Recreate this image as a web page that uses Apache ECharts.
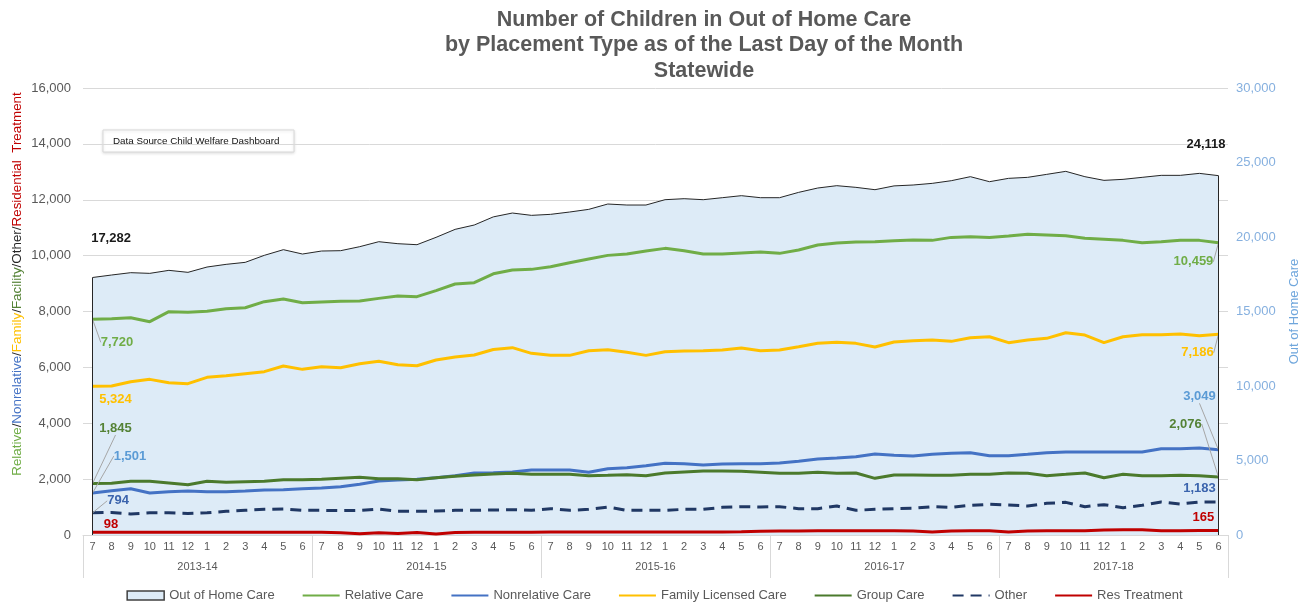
<!DOCTYPE html>
<html>
<head>
<meta charset="utf-8">
<script src="https://cdn.jsdelivr.net/npm/echarts@6/dist/echarts.min.js"></script>
<style>
html,body{margin:0;padding:0;background:#fff;}
#chart{width:1309px;height:604px;}
</style>
</head>
<body>
<div id="chart"></div>
<script>
// ---------------- DATA ----------------
const months = ['7','8','9','10','11','12','1','2','3','4','5','6'];
const fiscalYears = ['2013-14','2014-15','2015-16','2016-17','2017-18'];

const outOfHomeCare = [
  17282, 17449, 17605, 17560, 17762, 17628, 17985, 18164, 18299, 18768, 19149, 18858,
  19059, 19082, 19350, 19685, 19551, 19484, 19976, 20513, 20804, 21350, 21609, 21453,
  21520, 21676, 21855, 22213, 22146, 22146, 22504, 22571, 22504, 22638, 22773, 22638,
  22638, 22996, 23287, 23444, 23332, 23175, 23430, 23489, 23600, 23779, 24048, 23712,
  23936, 24003, 24204, 24406, 24048, 23802, 23869, 24003, 24137, 24137, 24271, 24118
];
const relativeCare = [
  7720, 7743, 7778, 7635, 7993, 7969, 8005, 8100, 8136, 8351, 8446, 8315,
  8339, 8363, 8375, 8470, 8554, 8530, 8745, 8983, 9031, 9350, 9484, 9508,
  9604, 9747, 9878, 10009, 10057, 10164, 10260, 10176, 10057, 10057, 10093, 10129,
  10081, 10200, 10379, 10451, 10486, 10498, 10534, 10558, 10546, 10653, 10677, 10653,
  10701, 10761, 10737, 10713, 10618, 10582, 10546, 10463, 10498, 10546, 10546, 10459
];
const nonrelativeCare = [
  1501, 1587, 1658, 1503, 1551, 1575, 1551, 1551, 1575, 1611, 1622, 1658,
  1682, 1730, 1813, 1933, 1968, 1992, 2052, 2124, 2219, 2231, 2255, 2326,
  2326, 2326, 2243, 2374, 2410, 2481, 2565, 2553, 2505, 2541, 2553, 2553,
  2577, 2637, 2720, 2756, 2804, 2899, 2857, 2827, 2887, 2923, 2947, 2839,
  2839, 2887, 2947, 2971, 2971, 2971, 2971, 2971, 3090, 3090, 3114, 3049
];
const familyLicensedCare = [
  5324, 5333, 5488, 5571, 5452, 5416, 5643, 5703, 5774, 5846, 6049, 5929,
  6025, 5989, 6132, 6216, 6096, 6060, 6263, 6371, 6442, 6640, 6705, 6502,
  6430, 6430, 6597, 6633, 6538, 6430, 6561, 6585, 6597, 6621, 6693, 6597,
  6621, 6740, 6860, 6896, 6860, 6729, 6907, 6955, 6979, 6931, 7063, 7098,
  6884, 6979, 7039, 7241, 7158, 6884, 7098, 7170, 7170, 7194, 7134, 7186
];
const groupCare = [
  1845, 1849, 1921, 1921, 1861, 1801, 1921, 1885, 1909, 1921, 1980, 1980,
  1992, 2028, 2064, 2016, 2016, 1980, 2052, 2100, 2147, 2180, 2207, 2171,
  2171, 2171, 2124, 2136, 2159, 2124, 2219, 2255, 2291, 2291, 2279, 2243,
  2207, 2207, 2243, 2207, 2219, 2028, 2147, 2147, 2136, 2136, 2171, 2171,
  2219, 2207, 2124, 2171, 2219, 2052, 2171, 2124, 2124, 2136, 2124, 2076
];
const otherCare = [
  794, 808, 752, 794, 794, 770, 794, 847, 883, 919, 931, 883,
  883, 871, 883, 931, 847, 847, 859, 883, 883, 895, 907, 883,
  943, 883, 919, 1002, 883, 883, 883, 919, 919, 990, 1014, 1002,
  1014, 943, 943, 1038, 883, 919, 943, 955, 1014, 990, 1062, 1098,
  1074, 1038, 1133, 1169, 1014, 1086, 978, 1062, 1181, 1110, 1181, 1183
];
const resTreatment = [
  98, 100, 100, 98, 97, 95, 95, 98, 100, 100, 100, 95,
  95, 80, 45, 80, 50, 90, 40, 90, 100, 100, 100, 100,
  105, 105, 105, 105, 105, 105, 105, 110, 110, 110, 115, 130,
  140, 145, 150, 150, 150, 150, 150, 140, 110, 140, 150, 155,
  110, 140, 150, 150, 155, 175, 190, 185, 155, 150, 160, 165
];
const leftTicks = [0, 2000, 4000, 6000, 8000, 10000, 12000, 14000, 16000];
const rightTicks = [0, 5000, 10000, 15000, 20000, 25000, 30000];

// ---------------- CHART ----------------
const categories = [];
fiscalYears.forEach(fy => months.forEach(m => categories.push(fy + '|' + m)));
const LAST = categories.length - 1;
const fmt = v => Number(v).toLocaleString('en-US');
const FONT = 'Arial, "Liberation Sans", sans-serif';

function withLabels(values, color, cfg) {
  return values.map((v, i) => {
    if (!cfg[i]) return v;
    return {
      value: v,
      label: {show: true, color: color},
      labelLine: {show: !!cfg[i].line}
    };
  });
}
function layoutFor(cfg) {
  return function (p) {
    const c = cfg[p.dataIndex];
    if (!c) return {};
    return {dx: c.dx, dy: c.dy};
  };
}

const baseLabel = {
  show: false, position: 'inside', fontSize: 13, fontWeight: 'bold', fontFamily: FONT,
  formatter: p => fmt(p.value)
};
const baseLine = {show: false, lineStyle: {color: '#A6A6A6', width: 1}};

function lineSeries(name, values, color, labelColor, cfg, extra) {
  return Object.assign({
    name: name,
    type: 'line',
    data: withLabels(values, labelColor, cfg),
    symbol: 'circle',
    symbolSize: 1,
    showSymbol: true,
    showAllSymbol: true,
    itemStyle: {color: 'rgba(0,0,0,0)'},
    lineStyle: {color: color, width: 3},
    label: baseLabel,
    labelLine: baseLine,
    labelLayout: layoutFor(cfg),
    emphasis: {disabled: true},
    silent: true,
    animation: false
  }, extra || {});
}

const cfgOOHC = {0: {dx: 18.5, dy: -39.5}, [LAST]: {dx: -12.5, dy: -31.6}};
const cfgRel = {0: {dx: 24.5, dy: 23, line: true}, [LAST]: {dx: -25, dy: 19, line: true}};
const cfgNon = {0: {dx: 37.5, dy: -37, line: true}, [LAST]: {dx: -19, dy: -53, line: true}};
const cfgFam = {0: {dx: 23, dy: 13}, [LAST]: {dx: -21, dy: 18.5, line: true}};
const cfgGrp = {0: {dx: 23, dy: -55, line: true}, [LAST]: {dx: -33, dy: -53, line: true}};
const cfgOth = {0: {dx: 25.5, dy: -12, line: true}, [LAST]: {dx: -19, dy: -13.7}};
const cfgRes = {0: {dx: 18.5, dy: -8}, [LAST]: {dx: -15, dy: -12.7}};

const chart = echarts.init(document.getElementById('chart'), null, {renderer: 'canvas'});

const oohcSeries = lineSeries('Out of Home Care', outOfHomeCare, '#262626', '#1a1a1a', cfgOOHC, {
  yAxisIndex: 1,
  lineStyle: {color: '#262626', width: 1},
  areaStyle: {color: '#DDEBF7', opacity: 1},
  markLine: {
    silent: true, animation: false, symbol: ['none', 'none'],
    label: {show: false},
    lineStyle: {color: '#262626', width: 1, type: 'solid'},
    emphasis: {disabled: true},
    data: [
      [{coord: [0, 0]}, {coord: [0, outOfHomeCare[0]]}],
      [{coord: [LAST, 0]}, {coord: [LAST, outOfHomeCare[LAST]]}]
    ]
  }
});

const R = 13.4;
const option = {
  animation: false,
  backgroundColor: '#ffffff',
  textStyle: {fontFamily: FONT},
  grid: {left: 83, right: 81, top: 88, bottom: 69, containLabel: false},
  xAxis: [
    {
      type: 'category', data: categories, position: 'bottom', boundaryGap: true,
      axisLine: {show: true, lineStyle: {color: '#D9D9D9', width: 1}},
      axisTick: {show: false},
      axisLabel: {interval: 0, fontSize: 11, color: '#595959', margin: 6, fontFamily: FONT,
        formatter: v => v.split('|')[1]},
      splitLine: {show: false}
    },
    {
      type: 'category', data: fiscalYears, position: 'bottom', boundaryGap: true,
      axisLine: {show: false},
      axisTick: {show: true, length: 43, lineStyle: {color: '#D9D9D9', width: 1}},
      axisLabel: {fontSize: 11, color: '#595959', margin: 26, fontFamily: FONT},
      splitLine: {show: false}
    }
  ],
  yAxis: [
    {
      type: 'value', min: leftTicks[0], max: leftTicks[leftTicks.length - 1], interval: leftTicks[1] - leftTicks[0],
      position: 'left',
      axisLine: {show: false}, axisTick: {show: false},
      splitLine: {show: true, lineStyle: {color: '#D9D9D9', width: 1}},
      axisLabel: {fontSize: 13, color: '#595959', margin: 12, fontFamily: FONT, formatter: fmt}
    },
    {
      type: 'value', min: rightTicks[0], max: rightTicks[rightTicks.length - 1], interval: rightTicks[1] - rightTicks[0],
      position: 'right',
      axisLine: {show: false}, axisTick: {show: false},
      splitLine: {show: false},
      axisLabel: {fontSize: 13, color: '#86B0DF', margin: 8, fontFamily: FONT, formatter: fmt},
      name: 'Out of Home Care', nameLocation: 'middle', nameRotate: 90, nameGap: 60,
      nameTextStyle: {fontSize: 13, color: '#6FA6DC', fontFamily: FONT}
    }
  ],
  legend: {
    top: 584, left: 'center',
    itemWidth: 37, itemHeight: 9, itemGap: 27,
    textStyle: {fontSize: 13, color: '#595959', fontFamily: FONT},
    selectedMode: false,
    data: [
      {name: 'Out of Home Care', icon: 'rect', itemStyle: {color: '#DDEBF7', borderColor: '#404040', borderWidth: 1.5}},
      'Relative Care', 'Nonrelative Care', 'Family Licensed Care', 'Group Care', 'Other', 'Res Treatment'
    ]
  },
  graphic: [
    {
      type: 'text', x: 704, y: 7, z: 10, silent: true,
      style: {
        text: 'Number of Children in Out of Home Care\nby Placement Type as of the Last Day of the Month\nStatewide',
        font: 'bold 21.5px Arial, "Liberation Sans", sans-serif',
        fill: '#595959', align: 'center', verticalAlign: 'top', lineHeight: 25.5
      }
    },
    {
      type: 'text', x: 17.5, y: 284, rotation: Math.PI / 2, z: 10, silent: true,
      style: {
        text: '{g|Relative}{k|/}{b|Nonrelative}{k|/}{y|Family}{k|/}{d|Facility}{k|/Other/}{r|Residential  Treatment}',
        align: 'center', verticalAlign: 'middle',
        font: R + 'px Arial, "Liberation Sans", sans-serif',
        rich: {
          g: {fill: '#70AD47', fontSize: R, fontFamily: FONT},
          k: {fill: '#262626', fontSize: R, fontFamily: FONT},
          b: {fill: '#4472C4', fontSize: R, fontFamily: FONT},
          y: {fill: '#FFC000', fontSize: R, fontFamily: FONT},
          d: {fill: '#548235', fontSize: R, fontFamily: FONT},
          r: {fill: '#C00000', fontSize: R, fontFamily: FONT}
        }
      }
    },
    {
      type: 'group', x: 103, y: 130, z: 10, silent: true,
      children: [
        {type: 'rect', shape: {x: 0, y: 0, width: 191, height: 22},
          style: {fill: '#ffffff', stroke: '#D9D9D9', lineWidth: 1, shadowBlur: 3, shadowColor: 'rgba(0,0,0,0.12)', shadowOffsetY: 1}},
        {type: 'text', x: 10, y: 11,
          style: {text: 'Data Source Child Welfare Dashboard', font: '9.8px Arial, "Liberation Sans", sans-serif',
            fill: '#111', align: 'left', verticalAlign: 'middle'}}
      ]
    }
  ],
  series: [
    oohcSeries,
    lineSeries('Relative Care', relativeCare, '#70AD47', '#70AD47', cfgRel),
    lineSeries('Nonrelative Care', nonrelativeCare, '#4472C4', '#5B9BD5', cfgNon),
    lineSeries('Family Licensed Care', familyLicensedCare, '#FFC000', '#FFC000', cfgFam),
    lineSeries('Group Care', groupCare, '#4B7A2C', '#548235', cfgGrp),
    lineSeries('Other', otherCare, '#203864', '#3B64AD', cfgOth, {lineStyle: {color: '#203864', width: 3, type: [11, 7]}}),
    lineSeries('Res Treatment', resTreatment, '#C00000', '#C00000', cfgRes)
  ]
};
chart.setOption(option);
</script>
</body>
</html>
